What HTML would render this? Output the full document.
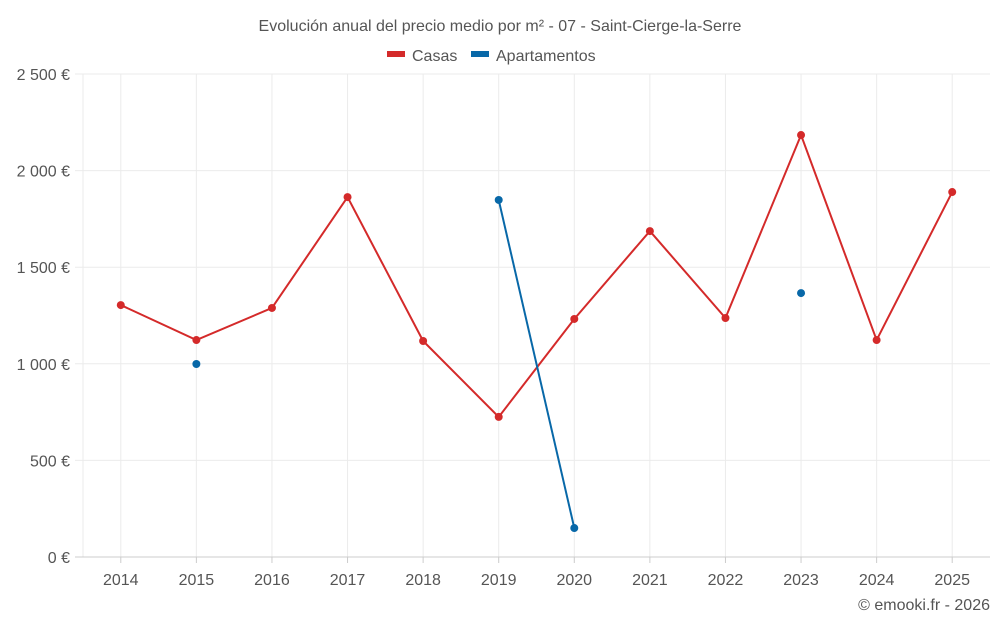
<!DOCTYPE html>
<html><head><meta charset="utf-8"><style>
body{margin:0;background:#fff;font-family:"Liberation Sans",sans-serif}
svg text{font-family:"Liberation Sans",sans-serif}
</style></head><body>
<svg id="c" width="1000" height="625">
<text x="500" y="31" text-anchor="middle" font-size="16" fill="#555">Evolución anual del precio medio por m² - 07 - Saint-Cierge-la-Serre</text>
<g><rect x="387" y="51" width="18" height="6" fill="#d42a2a"/><text x="412" y="61" font-size="16" fill="#555">Casas</text></g>
<g><rect x="471" y="51" width="18" height="6" fill="#0868a8"/><text x="496" y="61" font-size="16" fill="#555">Apartamentos</text></g>
<text x="990" y="610" text-anchor="end" font-size="16" fill="#555">© emooki.fr - 2026</text>
<g id="g"></g>
</svg>
<script>
const years=[2014,2015,2016,2017,2018,2019,2020,2021,2022,2023,2024,2025];
const casas=[1304,1123,1289,1863,1118,725,1232,1687,1237,2184,1123,1889];
const apartamentos=[null,999,null,null,null,1848,150,null,null,1366,null,null];
const yTicks=[0,500,1000,1500,2000,2500];
const yLabels=["0 €","500 €","1 000 €","1 500 €","2 000 €","2 500 €"];
const NS="http://www.w3.org/2000/svg",g=document.getElementById('g');
const L=83,R=990,T=74,B=557;
const step=(R-L)/years.length;
const x=i=>L+step*(i+0.5);
const y=v=>B-(v/2500)*(B-T);
function mk(t,a){const e=document.createElementNS(NS,t);for(const k in a)e.setAttribute(k,a[k]);g.appendChild(e);return e;}
const edge=mk('line',{x1:L,x2:L,y1:T,y2:B,stroke:'#ebebeb'});


years.forEach((yr,i)=>{const l=mk('line',{x1:x(i),x2:x(i),y1:T,y2:B,stroke:'#ebebeb'});

});
yTicks.forEach((v,i)=>{const l=mk('line',{x1:75,x2:R,y1:y(v),y2:y(v),stroke:v?'#ebebeb':'#ccc'});


const t=mk('text',{x:70,y:y(v)+6,'text-anchor':'end','font-size':16,fill:'#555'});t.textContent=yLabels[i];

});
years.forEach((yr,i)=>{const t=mk('text',{x:x(i),y:585,'text-anchor':'middle','font-size':16,fill:'#555'});t.textContent=yr;


mk('line',{x1:x(i),x2:x(i),y1:B,y2:B+6,stroke:'#ccc'});});
function series(data,color,name){
let segs=[],cur=[];
data.forEach((v,i)=>{if(v==null){if(cur.length)segs.push(cur);cur=[];}else cur.push(x(i)+','+y(v));});
if(cur.length)segs.push(cur);
segs.forEach(s=>{if(s.length>1){const p=mk('polyline',{points:s.join(' '),fill:'none',stroke:color,'stroke-width':2});

}});
data.forEach((v,i)=>{if(v==null)return;const c=mk('circle',{cx:x(i),cy:y(v),r:4,fill:color});

});
}
series(casas,'#d42a2a','casas');
series(apartamentos,'#0868a8','apartamentos');
</script>
</body></html>
